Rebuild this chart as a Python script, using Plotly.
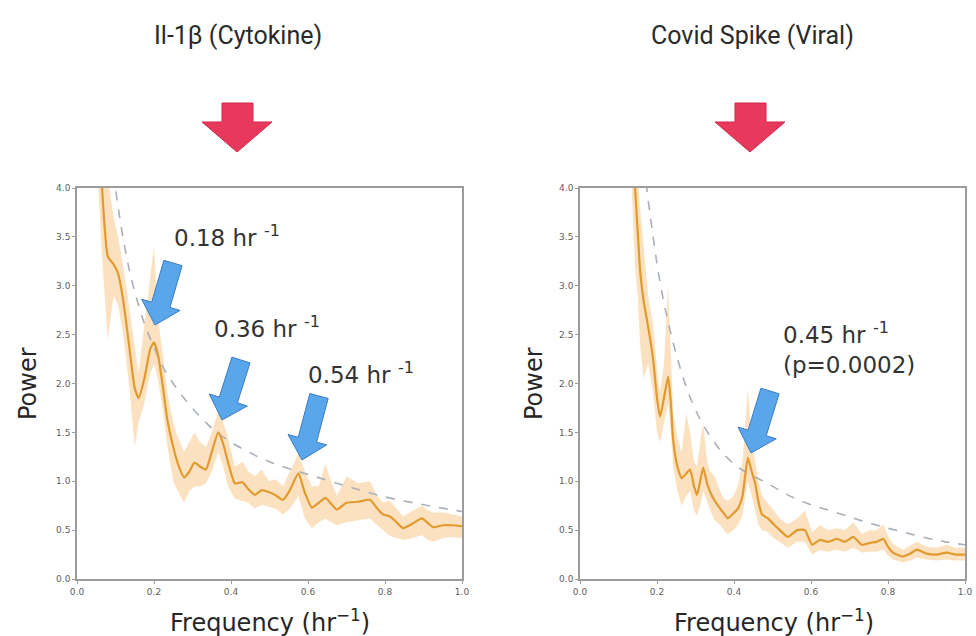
import math
import plotly.graph_objects as go

# ---------------- data ----------------
freq_il = [0.050, 0.065, 0.080, 0.095, 0.107, 0.120, 0.135, 0.150, 0.160, 0.175, 0.190, 0.200,
           0.210, 0.222, 0.235, 0.250, 0.262, 0.278, 0.292, 0.305, 0.320, 0.335, 0.350, 0.367,
           0.380, 0.392, 0.410, 0.430, 0.445, 0.462, 0.480, 0.498, 0.515, 0.535, 0.553, 0.575,
           0.592, 0.610, 0.628, 0.645, 0.660, 0.675, 0.700, 0.730, 0.761, 0.780, 0.795, 0.813,
           0.830, 0.847, 0.873, 0.896, 0.912, 0.925, 0.951, 0.975, 1.000]
mean_il = [5.00, 4.00, 3.30, 3.22, 3.12, 2.85, 2.40, 1.95, 1.85, 2.05, 2.35, 2.42,
           2.30, 2.00, 1.62, 1.35, 1.18, 1.04, 1.10, 1.19, 1.15, 1.12, 1.30, 1.50,
           1.38, 1.20, 0.98, 0.99, 0.92, 0.86, 0.91, 0.89, 0.86, 0.81, 0.91, 1.08,
           0.88, 0.73, 0.78, 0.83, 0.77, 0.71, 0.78, 0.79, 0.81, 0.72, 0.66, 0.64,
           0.58, 0.52, 0.57, 0.62, 0.57, 0.53, 0.55, 0.55, 0.54]
lo_il = [4.40, 3.30, 2.45, 2.90, 2.80, 2.50, 2.00, 1.35, 1.60, 1.80, 2.10, 2.20,
         2.05, 1.75, 1.35, 1.00, 0.90, 0.78, 0.90, 0.95, 0.95, 0.98, 1.10, 1.30,
         1.15, 0.95, 0.82, 0.80, 0.78, 0.72, 0.76, 0.74, 0.72, 0.66, 0.72, 0.85,
         0.62, 0.52, 0.58, 0.62, 0.58, 0.55, 0.58, 0.60, 0.62, 0.55, 0.50, 0.44,
         0.42, 0.40, 0.42, 0.45, 0.40, 0.38, 0.42, 0.43, 0.42]
hi_il = [5.60, 4.60, 4.10, 3.70, 3.50, 3.20, 2.80, 2.35, 2.10, 2.60, 3.10, 3.40,
         2.70, 2.30, 1.90, 1.60, 1.45, 1.30, 1.40, 1.50, 1.40, 1.35, 1.50, 1.72,
         1.60, 1.45, 1.15, 1.20, 1.10, 1.05, 1.12, 1.00, 1.02, 0.95, 1.10, 1.29,
         1.10, 0.95, 0.95, 1.18, 1.00, 0.85, 1.05, 0.98, 1.00, 0.85, 0.78, 0.80,
         0.72, 0.64, 0.70, 0.75, 0.70, 0.68, 0.68, 0.66, 0.64]
fit_f_il = [0.09, 0.10, 0.12, 0.14, 0.16, 0.18, 0.20, 0.22, 0.25, 0.28, 0.32, 0.36,
            0.40, 0.45, 0.50, 0.55, 0.60, 0.70, 0.80, 0.90, 1.00]
fit_p_il = [4.33, 4.00, 3.48, 3.09, 2.80, 2.56, 2.37, 2.19, 2.00, 1.84, 1.66, 1.51,
            1.40, 1.29, 1.20, 1.13, 1.07, 0.95, 0.84, 0.76, 0.69]

freq_cv = [0.130, 0.143, 0.150, 0.156, 0.165, 0.177, 0.190, 0.200, 0.208, 0.218, 0.229, 0.236,
           0.242, 0.253, 0.264, 0.276, 0.286, 0.296, 0.304, 0.312, 0.320, 0.330, 0.338, 0.350,
           0.364, 0.374, 0.384, 0.398, 0.410, 0.422, 0.436, 0.446, 0.455, 0.464, 0.473, 0.488,
           0.503, 0.519, 0.540, 0.564, 0.584, 0.603, 0.623, 0.644, 0.667, 0.688, 0.710, 0.732,
           0.753, 0.770, 0.788, 0.800, 0.813, 0.839, 0.858, 0.875, 0.900, 0.926, 0.953, 0.975,
           1.000]
mean_cv = [5.00, 4.00, 3.55, 3.16, 2.85, 2.58, 2.25, 1.85, 1.66, 1.85, 2.07, 1.80,
           1.42, 1.15, 1.03, 1.08, 1.12, 0.95, 0.86, 1.00, 1.14, 0.98, 0.89, 0.80,
           0.72, 0.67, 0.62, 0.67, 0.72, 0.85, 1.24, 1.10, 0.98, 0.78, 0.66, 0.62,
           0.56, 0.50, 0.43, 0.50, 0.50, 0.35, 0.40, 0.38, 0.41, 0.38, 0.43, 0.35,
           0.37, 0.38, 0.41, 0.33, 0.27, 0.23, 0.26, 0.30, 0.26, 0.25, 0.27, 0.25,
           0.25]
lo_cv = [4.40, 3.20, 2.90, 2.40, 2.05, 2.20, 1.90, 1.50, 1.40, 1.60, 1.80, 1.50,
         1.15, 0.90, 0.75, 0.85, 0.90, 0.70, 0.65, 0.75, 0.90, 0.80, 0.70, 0.60,
         0.55, 0.50, 0.46, 0.50, 0.55, 0.65, 1.00, 0.85, 0.70, 0.55, 0.50, 0.48,
         0.42, 0.38, 0.32, 0.38, 0.38, 0.25, 0.30, 0.28, 0.30, 0.28, 0.32, 0.27,
         0.28, 0.28, 0.30, 0.24, 0.20, 0.17, 0.19, 0.22, 0.20, 0.19, 0.20, 0.19,
         0.19]
hi_cv = [5.60, 4.60, 4.10, 3.80, 3.40, 2.90, 2.60, 2.15, 1.90, 2.20, 3.00, 2.20,
         1.70, 1.45, 1.30, 1.70, 1.50, 1.20, 1.15, 1.40, 1.60, 1.20, 1.10, 1.05,
         0.90, 0.82, 0.80, 0.85, 0.95, 1.20, 1.95, 1.40, 1.20, 1.00, 0.85, 0.78,
         0.70, 0.62, 0.56, 0.62, 0.70, 0.48, 0.55, 0.50, 0.52, 0.50, 0.58, 0.46,
         0.50, 0.50, 0.56, 0.44, 0.36, 0.30, 0.34, 0.38, 0.33, 0.32, 0.35, 0.32,
         0.32]
fit_f_cv = [0.16, 0.174, 0.19, 0.205, 0.226, 0.25, 0.28, 0.31, 0.345, 0.38, 0.42, 0.486,
            0.55, 0.60, 0.657, 0.72, 0.78, 0.839, 0.90, 0.95, 1.00]
fit_p_cv = [4.60, 3.98, 3.50, 3.10, 2.68, 2.30, 1.92, 1.65, 1.42, 1.25, 1.12, 0.98,
            0.84, 0.76, 0.69, 0.61, 0.54, 0.48, 0.42, 0.38, 0.35]

panel_titles = ["Il-1β (Cytokine)", "Covid Spike (Viral)"]
x_ticks = [0.0, 0.2, 0.4, 0.6, 0.8, 1.0]
y_ticks = [0.0, 0.5, 1.0, 1.5, 2.0, 2.5, 3.0, 3.5, 4.0]
peak_labels_il = ["0.18 hr <sup>-1</sup>", "0.36 hr <sup>-1</sup>", "0.54 hr <sup>-1</sup>"]
peak_labels_cv = ["0.45 hr <sup>-1</sup>", "(p=0.0002)"]

# ---------------- styling ----------------
W, H = 976, 636
BAND = "rgba(248,188,115,0.45)"
MEAN = "#E09A2D"
FIT = "#A9B0BA"
AXC = "#9C9C9C"
BLUE = "#5AA6EA"
BLUE_EDGE = "#3B7CC4"
RED = "#E8385B"

def px(x):
    return x / W

def py(y):
    return 1 - y / H

fig = go.Figure()

def add_panel(n, f, m, lo, hi, ff, fp):
    xa = "x" if n == 1 else "x2"
    ya = "y" if n == 1 else "y2"
    fig.add_trace(go.Scatter(x=f, y=lo, mode="lines", line=dict(width=0, color=BAND),
                             xaxis=xa, yaxis=ya, showlegend=False, hoverinfo="skip"))
    fig.add_trace(go.Scatter(x=f, y=hi, mode="lines", line=dict(width=0, color=BAND),
                             fill="tonexty", fillcolor=BAND,
                             xaxis=xa, yaxis=ya, showlegend=False, hoverinfo="skip"))
    fig.add_trace(go.Scatter(x=ff, y=fp, mode="lines",
                             line=dict(color=FIT, width=1.6, dash="dash", shape="spline"),
                             xaxis=xa, yaxis=ya, showlegend=False))
    fig.add_trace(go.Scatter(x=f, y=m, mode="lines",
                             line=dict(color=MEAN, width=2.2, shape="spline", smoothing=0.5),
                             xaxis=xa, yaxis=ya, showlegend=False))

add_panel(1, freq_il, mean_il, lo_il, hi_il, fit_f_il, fit_p_il)
add_panel(2, freq_cv, mean_cv, lo_cv, hi_cv, fit_f_cv, fit_p_cv)

def axis(domain, anchor, rng, ticks):
    return dict(domain=domain, anchor=anchor, range=rng, tickvals=ticks, tickformat=".1f",
                showline=True, mirror=True, linecolor=AXC, linewidth=1.5,
                ticks="outside", ticklen=3, tickcolor=AXC, tickwidth=1,
                tickfont=dict(family="DejaVu Sans", size=9, color="#606060"),
                showgrid=False, zeroline=False, fixedrange=True, automargin=False)

ydom = [py(579), py(188)]
layout_axes = dict(
    xaxis=axis([px(77), px(462)], "y", [0, 1], x_ticks),
    yaxis=axis(ydom, "x", [0, 4], y_ticks),
    xaxis2=axis([px(580), px(965)], "y2", [0, 1], x_ticks),
    yaxis2=axis(ydom, "x2", [0, 4], y_ticks),
)

shapes = []

def poly_path(points):
    return "M " + " L ".join(f"{px(x):.5f},{py(y):.5f}" for x, y in points) + " Z"

def block_arrow(tail, tip, ws=9.5, wh=20, hl=21):
    dx, dy = tip[0] - tail[0], tip[1] - tail[1]
    L = math.hypot(dx, dy)
    ux, uy = dx / L, dy / L
    nx, ny = -uy, ux
    bx, by = tip[0] - ux * hl, tip[1] - uy * hl
    return [
        (tail[0] + nx * ws, tail[1] + ny * ws),
        (bx + nx * ws, by + ny * ws),
        (bx + nx * wh, by + ny * wh),
        tip,
        (bx - nx * wh, by - ny * wh),
        (bx - nx * ws, by - ny * ws),
        (tail[0] - nx * ws, tail[1] - ny * ws),
    ]

# blue arrows (pixel tail -> tip)
blue_arrows = [((173, 263), (155, 325)), ((241, 360), (222, 420)),
               ((319, 396), (302, 460)), ((770, 391), (751, 453))]
for tail, tip in blue_arrows:
    shapes.append(dict(type="path", xref="paper", yref="paper", path=poly_path(block_arrow(tail, tip)),
                       fillcolor=BLUE, line=dict(color=BLUE_EDGE, width=1), layer="above"))

# red arrows above panels
for cx in (237, 750):
    pts = [(cx - 15, 103), (cx + 16, 103), (cx + 16, 122), (cx + 35, 122), (cx, 152),
           (cx - 35, 122), (cx - 15, 122)]
    shapes.append(dict(type="path", xref="paper", yref="paper", path=poly_path(pts),
                       fillcolor=RED, line=dict(color="#D02A4C", width=1), layer="above"))

annotations = []

def text(x, y, s, size, xanchor="center", family="DejaVu Sans", color="#2E2E2E", angle=0):
    annotations.append(dict(x=px(x), y=py(y), xref="paper", yref="paper", text=s, showarrow=False,
                            xanchor=xanchor, yanchor="middle", textangle=angle,
                            font=dict(family=family, size=size, color=color)))

# panel titles
text(238, 35, panel_titles[0], 25, family="Roboto", color="#2A2A2A")
text(752, 35, panel_titles[1], 25, family="Roboto", color="#2A2A2A")

# axis titles
for cx in (28, 534):
    text(cx, 384, "Power", 24, angle=-90, color="#262626")
text(270, 621, "Frequency (hr<sup>−1</sup>)", 24, color="#262626")
text(774, 621, "Frequency (hr<sup>−1</sup>)", 24, color="#262626")

# peak labels
text(172, 236, peak_labels_il[0], 23, xanchor="left", color="#333333")
text(212, 327, peak_labels_il[1], 23, xanchor="left", color="#333333")
text(306, 373, peak_labels_il[2], 23, xanchor="left", color="#333333")
text(781, 333, peak_labels_cv[0], 23, xanchor="left", color="#333333")
text(781, 365, peak_labels_cv[1], 23, xanchor="left", color="#333333")

fig.update_layout(width=W, height=H, margin=dict(l=0, r=0, t=0, b=0, autoexpand=False),
                  paper_bgcolor="white", plot_bgcolor="white",
                  shapes=shapes, annotations=annotations, showlegend=False,
                  **layout_axes)

fig.write_html("out.html", config={"displayModeBar": False},
               post_script="document.body.style.margin='0';document.body.style.overflow='hidden';")
